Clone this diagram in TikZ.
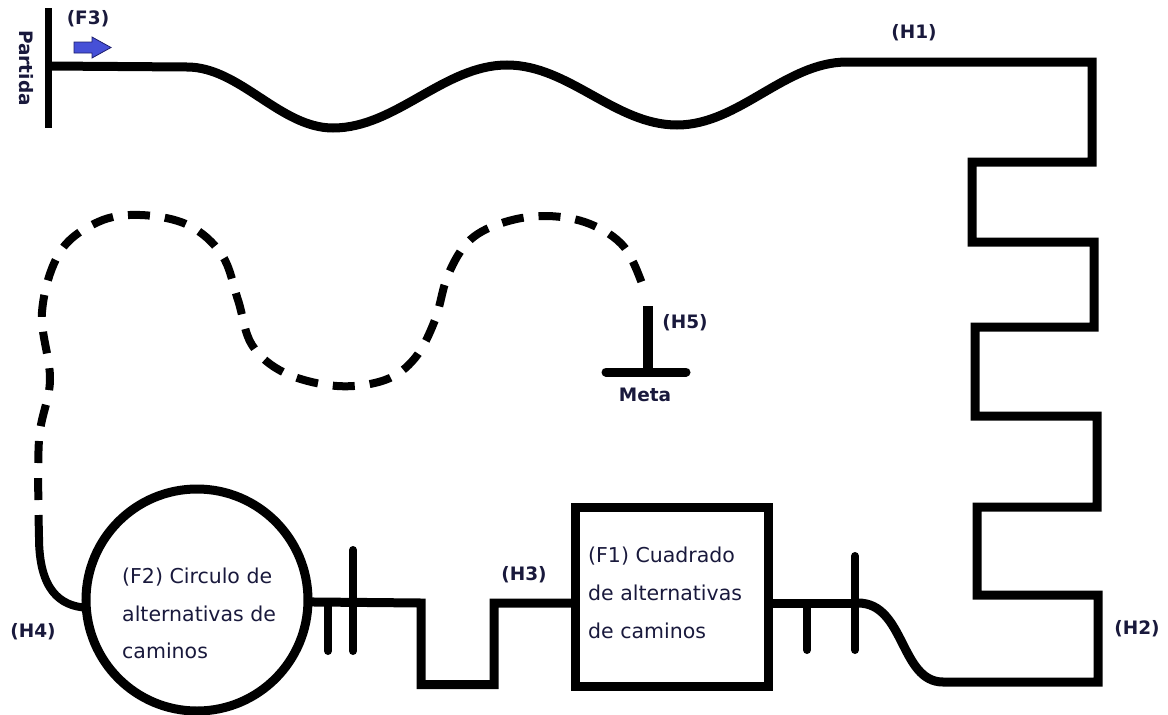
\documentclass[tikz,border=0pt]{standalone}
\usepackage{fontspec}
\setmainfont{DejaVu Sans}
\definecolor{ink}{RGB}{25,25,60}
\definecolor{arrowblue}{RGB}{70,80,215}
\definecolor{arrowedge}{RGB}{30,30,110}
\begin{document}
\begin{tikzpicture}[x=1pt,y=-1pt,
  track/.style={line width=9pt, draw=black},
  dashtrack/.style={line width=8pt, dash pattern=on 22pt off 15pt},
  tickmark/.style={line width=8pt, line cap=round},
  lbl/.style={font=\bfseries\fontsize{18.5}{20}\selectfont, text=ink, inner sep=0pt},
  txt/.style={font=\fontsize{20.5}{24}\selectfont, text=ink, inner sep=0pt, anchor=base west}]
\useasboundingbox (0,0) rectangle (1168,715);
% start bar
\draw[line width=7pt] (48.5,8) -- (48.5,128);
\node[lbl, rotate=-90] (partida) at (26,68) {Partida};
\node[lbl] (f3) at (88,19) {(F3)};
\draw[fill=arrowblue, draw=arrowedge, line width=0.8pt, line join=miter]
  (74,42) -- (92,42) -- (92,37) -- (111,47.5) -- (92,58) -- (92,53) -- (74,53) -- cycle;
% top wave and right zigzag
\draw[track] (48.5,66) -- (187,67)
  .. controls (240,67) and (280,128) .. (333,128)
  .. controls (396,128) and (444,65) .. (507,65)
  .. controls (569,65) and (615,125) .. (677,125)
  .. controls (739,125) and (785,62) .. (847,62)
  -- (1092,62) -- (1092,162) -- (972,162) -- (972,242) -- (1094,242)
  -- (1094,327) -- (975,327) -- (975,416) -- (1097,416) -- (1097,507)
  -- (977,507) -- (977,595) -- (1098,595) -- (1098,682) -- (943,682)
  .. controls (900,682) and (905,603) .. (858,603) coordinate (sEnd);
\node[lbl] (h1) at (914,33) {(H1)};
\node[lbl] (h2) at (1137,629) {(H2)};
% box F1
\node[draw, line width=9pt, outer sep=0pt, minimum width=192.5pt, minimum height=179pt] (box) at (671.75,597) {};
\coordinate (ylev) at (0,603);
\draw[track] (sEnd) -- (box.east |- ylev);
\node[txt] (f1a) at (588,562) {(F1) Cuadrado};
\node[txt] (f1b) at (588,600) {de alternativas};
\node[txt] (f1c) at (588,638) {de caminos};
% circle F2
\node[circle, draw, line width=9pt, outer sep=0pt, minimum size=222pt] (circ) at (197,600) {};
\draw[track] (box.west |- ylev) -- (494,603) -- (494,684.5) -- (421,684.5) -- (421,603) -- (circ.-1.5);
\node[txt] (f2a) at (122,583) {(F2) Circulo de};
\node[txt] (f2b) at (122,621) {alternativas de};
\node[txt] (f2c) at (122,658) {caminos};
\node[lbl] (h3) at (524,575) {(H3)};
\node[lbl] (h4) at (33,632) {(H4)};
% ticks
\draw[tickmark] (328,603) -- (328,651);
\draw[tickmark] (353,550) -- (353,651);
\draw[tickmark] (807,603) -- (807,650);
\draw[tickmark] (855,556) -- (855,650);
% dashed return path
\draw[line width=8pt] (circ.184) .. controls (60,606) and (39,590) .. (39,537);
\draw[dashtrack] plot[smooth, tension=0.6] coordinates {
  (39,537) (39,440) (50,380) (42,312) (60,252) (98,222) (140,215) (188,225)
  (222,255) (238,300) (252,345) (285,373) (337,386) (385,380) (415,358)
  (435,320) (448,275) (470,240) (505,222) (547,216) (590,224) (625,248) (645,292)};
% finish
\draw[line width=10pt] (648,306) -- (648,372);
\draw[line width=9pt, line cap=round] (606,372) -- (686,372);
\node[lbl] (h5) at (685,323) {(H5)};
\node[lbl] (meta) at (645,395) {Meta};
\end{tikzpicture}
\end{document}
